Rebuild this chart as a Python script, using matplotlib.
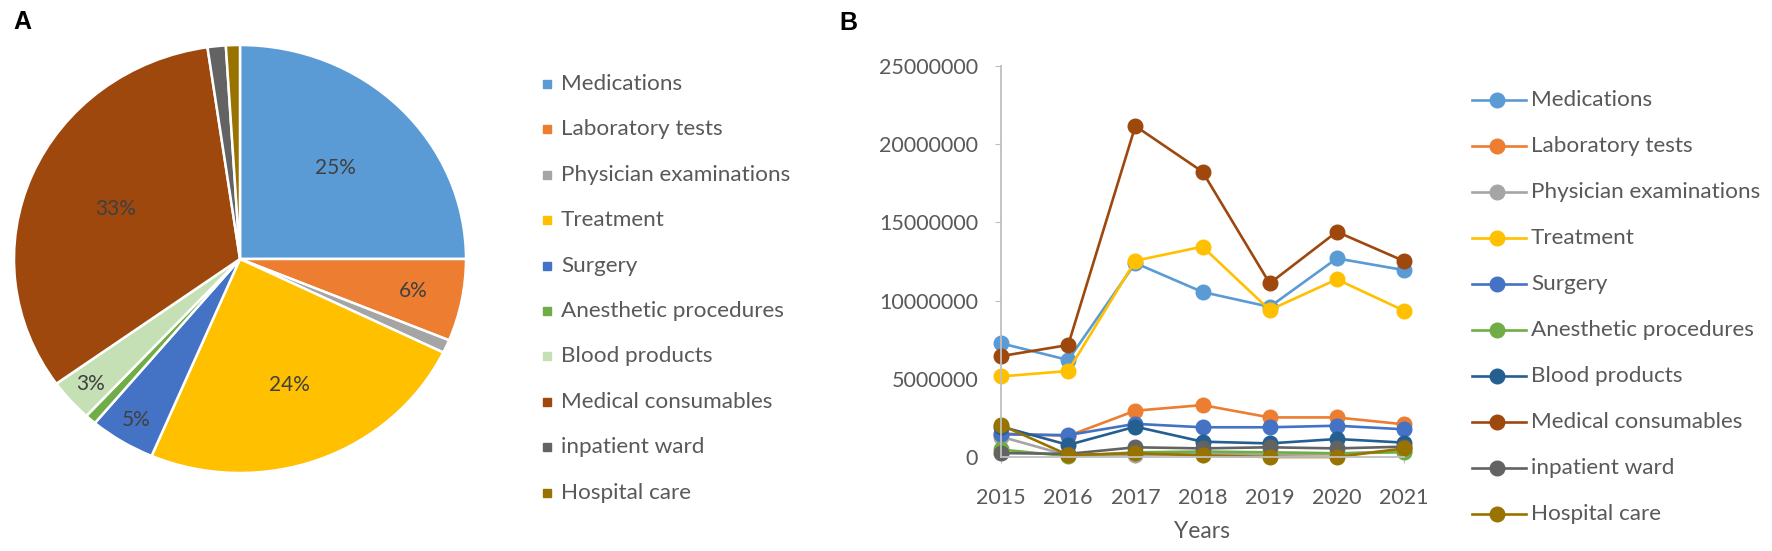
import numpy as np
import matplotlib
matplotlib.use("Agg")
import matplotlib.pyplot as plt
from matplotlib.lines import Line2D

plt.rcParams['font.family'] = ['Lato', 'DejaVu Sans']

# ---- data ----
categories = ["Medications", "Laboratory tests", "Physician examinations", "Treatment",
              "Surgery", "Anesthetic procedures", "Blood products", "Medical consumables",
              "inpatient ward", "Hospital care"]

# share of total cost (%), panel A
pie_shares = [25.0, 6.2, 1.0, 24.2, 4.7, 0.8, 3.2, 32.6, 1.3, 1.0]

years = [2015, 2016, 2017, 2018, 2019, 2020, 2021]

medications   = [7.27e6, 6.2e6, 12.4e6, 10.55e6, 9.6e6, 12.7e6, 11.95e6]
lab_tests     = [1.5e6, 1.35e6, 2.96e6, 3.32e6, 2.53e6, 2.53e6, 2.09e6]
physician     = [1.3e6, 0.1e6, 0.12e6, 0.2e6, 0.15e6, 0.2e6, 0.4e6]
treatment     = [5.15e6, 5.5e6, 12.55e6, 13.45e6, 9.4e6, 11.36e6, 9.36e6]
surgery       = [1.45e6, 1.4e6, 2.12e6, 1.9e6, 1.9e6, 2.0e6, 1.77e6]
anesthetic    = [0.48e6, 0.05e6, 0.3e6, 0.35e6, 0.3e6, 0.24e6, 0.3e6]
blood         = [1.95e6, 0.77e6, 1.94e6, 0.98e6, 0.87e6, 1.15e6, 0.92e6]
consumables   = [6.45e6, 7.16e6, 21.16e6, 18.24e6, 11.1e6, 14.4e6, 12.53e6]
inpatient     = [0.25e6, 0.2e6, 0.62e6, 0.55e6, 0.62e6, 0.55e6, 0.66e6]
hospital_care = [2.05e6, 0.13e6, 0.24e6, 0.1e6, 0.0, 0.0, 0.55e6]

series = [medications, lab_tests, physician, treatment, surgery, anesthetic,
          blood, consumables, inpatient, hospital_care]

line_colors = ["#5B9BD5", "#ED7D31", "#A5A5A5", "#FFC000", "#4472C4", "#70AD47",
               "#255E91", "#9E480E", "#636363", "#997300"]
pie_colors = ["#5B9BD5", "#ED7D31", "#A5A5A5", "#FFC000", "#4472C4", "#70AD47",
              "#C5E0B4", "#9E480E", "#636363", "#997300"]

W, H = 1772, 551
fig = plt.figure(figsize=(W / 100, H / 100), dpi=100)


def fx(px):
    return px / W


def fy(py):
    return 1 - py / H


txt_col = "#595959"
leg_size = 16.2

# ---- panel A: pie ----
cx, cy, rx, ry = 240, 259, 226, 214
ax_pie = fig.add_axes([fx(cx - rx), fy(cy + ry), 2 * rx / W, 2 * ry / H])
wedges, _ = ax_pie.pie(pie_shares, colors=pie_colors, startangle=90, counterclock=False,
                       radius=1, wedgeprops=dict(edgecolor="white", linewidth=1.8))
ax_pie.set_xlim(-1, 1)
ax_pie.set_ylim(-1, 1)
ax_pie.set_aspect("auto")

label_dist = [0.6, 0.78, None, 0.63, 0.88, None, 0.88, 0.6, None, None]
for w, share, d in zip(wedges, pie_shares, label_dist):
    if d is None:
        continue
    ang = np.deg2rad((w.theta1 + w.theta2) / 2)
    ax_pie.text(d * np.cos(ang), d * np.sin(ang), f"{share:.0f}%", ha="center", va="center",
                fontsize=15, color="#404040")

fig.text(fx(22), fy(22), "A", fontsize=18, fontweight="bold", ha="center", va="center",
         family=["Liberation Sans", "DejaVu Sans"])

# pie legend
for i, (name, c) in enumerate(zip(categories, pie_colors)):
    yy = fy(84 + i * 45.4)
    fig.add_artist(Line2D([fx(547)], [yy], marker="s", markersize=6, color=c, linestyle="none"))
    fig.text(fx(561), yy, name, fontsize=leg_size, color=txt_col, va="center", ha="left")

# ---- panel B: lines ----
x0, x1, y0, y1 = 1001, 1404, 457, 66
ax = fig.add_axes([fx(x0), fy(y0), (x1 - x0) / W, (y0 - y1) / H])
for vals, c, name in zip(series, line_colors, categories):
    ax.plot(years, vals, color=c, linewidth=1.9, marker="o", markersize=10.5,
            clip_on=False, label=name)

ax.set_xlim(2015, 2021)
ax.set_ylim(0, 25000000)
ax.set_xticks(years)
ax.set_yticks(np.arange(0, 25000001, 5000000))
ax.set_yticklabels([f"{v:d}" for v in np.arange(0, 25000001, 5000000)])
for s in ["top", "right"]:
    ax.spines[s].set_visible(False)
for s in ["left", "bottom"]:
    ax.spines[s].set_color("#BFBFBF")
    ax.spines[s].set_linewidth(1.3)
ax.tick_params(axis="y", length=4.5, color="#BFBFBF", labelsize=15.5, labelcolor=txt_col, pad=12)
ax.tick_params(axis="x", length=4.5, color="#BFBFBF", labelsize=15.5, labelcolor=txt_col, pad=18)
ax.set_xlabel("Years", fontsize=16.5, color=txt_col)
ax.xaxis.set_label_coords(0.5, -(531 - y0) / (y0 - y1))
ax.xaxis.label.set_va("center")

fig.text(fx(848), fy(23), "B", fontsize=18, fontweight="bold", ha="center", va="center",
         family=["Liberation Sans", "DejaVu Sans"])

# line legend
for i, (name, c) in enumerate(zip(categories, line_colors)):
    yy = fy(100 + i * 46)
    fig.add_artist(Line2D([fx(1472), fx(1526)], [yy, yy], color=c, linewidth=1.9))
    fig.add_artist(Line2D([fx(1497)], [yy], marker="o", markersize=10.5, color=c,
                          linestyle="none"))
    fig.text(fx(1531), yy, name, fontsize=leg_size, color=txt_col, va="center", ha="left")

fig.savefig("out.png", dpi=100)
